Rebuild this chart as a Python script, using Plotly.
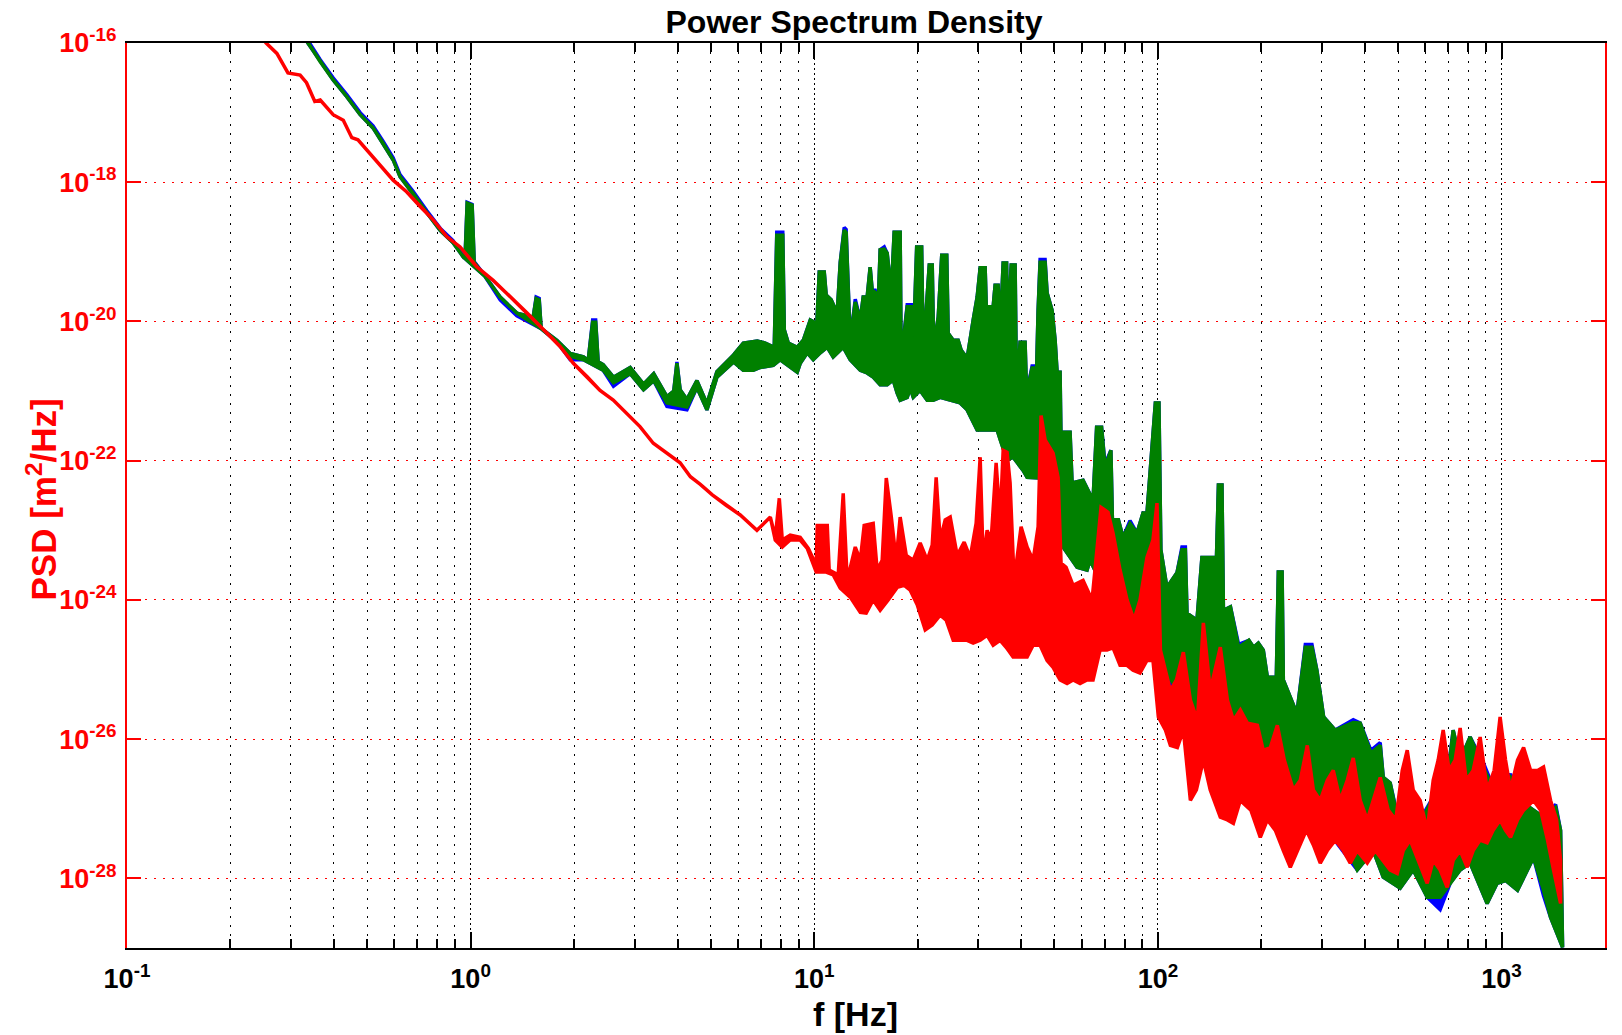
import plotly.graph_objects as go

# ------------------------------------------------------------------
# Data: (frequency [Hz], log10 PSD [m^2/Hz])
# Each spectrum is dense, so it is stored as its upper and lower
# envelope; where the trace is a thin line both envelopes coincide.
# ------------------------------------------------------------------

red_line = [(0.21, -15.50), (0.254, -16.00), (0.273, -16.15), (0.294, -16.43), (0.319, -16.46),
            (0.333, -16.57), (0.352, -16.84), (0.365, -16.82), (0.398, -17.03), (0.426, -17.11),
            (0.451, -17.36), (0.470, -17.39), (0.499, -17.54), (0.545, -17.75), (0.595, -17.97),
            (0.652, -18.14), (0.713, -18.35), (0.778, -18.54), (0.852, -18.78), (0.932, -18.93),
            (1.04, -19.21), (1.163, -19.41), (1.27, -19.59), (1.46, -19.88), (1.67, -20.17),
            (1.82, -20.36), (1.99, -20.60), (2.18, -20.79), (2.38, -20.99), (2.60, -21.13),
            (2.85, -21.32), (3.11, -21.51), (3.40, -21.75), (3.72, -21.89), (4.07, -22.03),
            (4.36, -22.23), (4.66, -22.34), (5.05, -22.49), (5.54, -22.64), (6.09, -22.78),
            (6.81, -23.00), (7.45, -22.81)]

red_top = [(7.70, -23.10), (7.91, -22.54), (8.07, -23.14), (8.51, -23.07), (9.10, -23.10),
           (9.61, -23.26), (10.13, -23.50), (10.20, -22.93), (10.91, -22.93), (11.05, -23.57),
           (11.74, -23.64), (12.14, -22.47), (12.47, -23.72), (13.16, -23.24), (13.61, -23.43),
           (13.97, -22.93), (14.84, -22.90), (15.24, -23.57), (15.76, -23.43), (16.20, -22.25),
           (16.75, -22.80), (17.31, -23.43), (17.78, -22.81), (18.52, -23.36), (19.41, -23.43),
           (20.33, -23.18), (21.31, -23.43), (22.04, -23.21), (22.63, -22.24), (23.25, -23.14),
           (24.04, -22.85), (24.86, -22.81), (26.05, -23.36), (27.30, -23.17), (28.42, -23.39),
           (29.58, -22.90), (30.39, -21.95), (31.01, -23.43), (31.84, -23.00), (32.71, -23.14),
           (33.82, -22.03), (34.74, -22.85), (35.45, -21.85), (36.40, -21.88), (37.14, -22.32),
           (38.15, -23.72), (39.98, -22.95), (41.62, -23.24), (43.33, -23.43), (44.81, -22.95),
           (45.71, -21.35), (46.95, -21.70), (49.54, -21.89), (51.23, -22.24), (52.26, -23.47),
           (54.04, -23.53), (56.64, -23.79), (60.56, -23.72), (64.32, -24.00), (66.95, -23.14),
           (68.31, -22.67), (71.58, -22.74), (74.02, -23.04), (77.58, -23.57), (81.30, -24.00),
           (85.19, -24.29), (88.68, -24.00), (92.94, -23.39), (96.75, -23.14), (99.38, -22.61),
           (101.7, -24.72), (108.7, -25.30), (113.2, -25.15), (118.6, -24.75), (124.3, -25.44),
           (130.3, -25.73), (135.6, -24.33), (142.0, -25.30), (151.9, -24.68), (159.3, -25.44),
           (165.8, -25.73), (173.7, -25.58), (182.1, -25.77), (194.7, -25.80), (202.6, -26.16),
           (212.4, -26.12), (222.6, -25.80), (233.2, -26.30), (247.8, -26.73), (259.6, -26.59),
           (272.1, -26.09), (283.3, -26.73), (296.8, -26.88), (311.1, -26.59), (323.8, -26.45),
           (339.3, -26.88), (355.6, -26.59), (370.2, -26.27), (387.9, -26.88), (406.6, -27.16),
           (423.2, -26.88), (443.5, -26.55), (468.0, -27.02), (492.1, -27.16), (514.0, -26.45),
           (531.5, -26.16), (553.2, -26.73), (579.7, -26.88), (607.6, -27.31), (632.5, -26.59),
           (654.0, -26.30), (676.3, -25.87), (703.9, -26.45), (732.9, -26.30), (757.7, -25.84),
           (789.0, -26.59), (826.8, -26.45), (866.2, -25.97), (907.9, -26.73), (951.4, -26.45),
           (990.3, -25.68), (1027, -26.30), (1062, -26.73), (1113, -26.30), (1159, -26.12),
           (1215, -26.45), (1273, -26.45), (1325, -26.40), (1389, -26.88), (1446, -27.16),
           (1485, -27.74)]

red_bottom = [(7.70, -23.14), (8.07, -23.24), (8.51, -23.14), (9.10, -23.14), (9.54, -23.26),
              (10.13, -23.60), (10.83, -23.60), (11.35, -23.64), (11.90, -23.83), (12.72, -23.96),
              (13.61, -24.18), (14.16, -24.19), (14.84, -24.00), (15.55, -24.15), (16.41, -24.00),
              (17.43, -23.82), (18.27, -23.79), (19.02, -23.86), (19.93, -24.07), (21.03, -24.43),
              (22.04, -24.36), (23.25, -24.22), (24.20, -24.29), (25.37, -24.58), (26.58, -24.58),
              (27.85, -24.58), (29.00, -24.62), (30.39, -24.58), (31.84, -24.51), (33.15, -24.65),
              (34.74, -24.58), (36.16, -24.68), (37.90, -24.82), (39.71, -24.82), (41.62, -24.82),
              (43.33, -24.65), (45.41, -24.65), (47.59, -24.87), (49.54, -24.97), (51.91, -25.15),
              (54.40, -25.20), (56.64, -25.15), (59.35, -25.20), (62.20, -25.15), (64.75, -25.15),
              (67.85, -24.72), (71.10, -24.72), (74.02, -24.69), (77.58, -24.94), (81.30, -24.94),
              (84.64, -25.01), (88.68, -25.05), (92.94, -24.87), (96.75, -24.87), (100.3, -25.68),
              (105.2, -25.87), (108.7, -26.09), (113.9, -26.12), (118.6, -25.87), (124.3, -26.88),
              (129.4, -26.73), (135.6, -26.30), (142.0, -26.73), (151.9, -27.12), (159.3, -27.16),
              (165.8, -27.21), (173.7, -26.88), (186.4, -27.02), (198.6, -27.41), (208.2, -27.16),
              (219.7, -27.31), (231.7, -27.60), (242.8, -27.84), (254.5, -27.60), (270.3, -27.31),
              (283.3, -27.52), (296.8, -27.78), (311.1, -27.60), (328.2, -27.45), (346.2, -27.60),
              (362.8, -27.78), (380.2, -27.60), (406.6, -27.78), (428.9, -27.60), (452.6, -27.74),
              (474.2, -27.88), (497.1, -27.93), (517.5, -27.60), (542.2, -27.45), (572.0, -27.74),
              (607.6, -28.07), (632.5, -27.74), (662.7, -27.88), (694.6, -28.13), (723.1, -27.74),
              (757.7, -27.60), (794.2, -27.84), (826.8, -27.60), (866.2, -27.45), (907.9, -27.49),
              (945.1, -27.31), (990.3, -27.16), (1027, -27.31), (1062, -27.41), (1113, -27.16),
              (1159, -27.02), (1239, -26.88), (1299, -27.02), (1361, -27.45), (1417, -27.88),
              (1485, -28.36)]

green_top = [(0.29, -15.50), (0.336, -16.00), (0.365, -16.27), (0.398, -16.53), (0.436, -16.77),
             (0.477, -17.03), (0.520, -17.22), (0.556, -17.44), (0.595, -17.68), (0.623, -17.92),
             (0.680, -18.16), (0.746, -18.44), (0.815, -18.69), (0.889, -18.87), (0.951, -19.07),
             (0.964, -19.05), (0.977, -18.30), (1.010, -18.33), (1.024, -19.15), (1.10, -19.35),
             (1.219, -19.65), (1.363, -19.88), (1.52, -19.94), (1.551, -19.67), (1.583, -19.69),
             (1.604, -20.10), (1.782, -20.27), (1.949, -20.46), (2.13, -20.51), (2.198, -20.56),
             (2.265, -20.01), (2.311, -20.01), (2.350, -20.58), (2.43, -20.62), (2.604, -20.80),
             (2.913, -20.66), (3.185, -20.90), (3.41, -20.75), (3.726, -21.08), (3.90, -21.00),
             (3.984, -20.60), (4.07, -20.98), (4.260, -21.12), (4.555, -20.85), (4.871, -21.18),
             (5.208, -20.72), (5.822, -20.48),
             (6.215, -20.31), (6.826, -20.28), (7.201, -20.31), (7.648, -20.37), (7.778, -18.76),
             (8.097, -18.76), (8.179, -20.12), (8.401, -20.31), (8.923, -20.37), (9.290, -20.27),
             (9.736, -19.98), (10.00, -20.01), (10.13, -20.22), (10.34, -19.29), (10.69, -19.29),
             (10.83, -19.62), (11.20, -19.69), (11.66, -19.88), (11.90, -19.15), (12.22, -18.69),
             (12.38, -18.72), (12.55, -19.41), (12.72, -20.27), (13.16, -19.72), (13.61, -19.98),
             (13.88, -19.65), (14.25, -19.65), (14.54, -19.22), (14.74, -19.55), (15.04, -19.58),
             (15.35, -19.74), (15.55, -18.97), (15.98, -18.96), (16.30, -19.02), (16.75, -19.59),
             (17.08, -18.72), (17.78, -18.72), (17.90, -20.55), (18.39, -19.98), (18.64, -19.79),
             (19.27, -19.79), (19.47, -20.22), (19.86, -18.93), (20.53, -18.93), (20.75, -20.45),
             (21.61, -19.19), (22.04, -19.19), (22.26, -20.37), (22.94, -19.94), (23.49, -19.05),
             (24.29, -19.05), (24.53, -20.17), (25.37, -20.27), (26.22, -20.27), (26.75, -20.41),
             (27.85, -20.53), (29.00, -19.98), (29.78, -19.65), (30.39, -19.23), (31.42, -19.23),
             (31.66, -19.79), (33.15, -19.79), (33.59, -19.48), (34.28, -19.48), (34.74, -20.17),
             (35.45, -19.16), (36.28, -19.16), (36.53, -20.17), (37.42, -19.19), (38.41, -19.19),
             (38.79, -21.09), (39.71, -20.30), (41.06, -20.30), (41.48, -21.03), (43.04, -20.67),
             (44.38, -20.67), (44.81, -19.84), (45.41, -19.15), (46.95, -19.15), (47.59, -19.59),
             (49.21, -19.84), (50.21, -20.27), (50.89, -20.73), (51.91, -20.73), (52.44, -22.32),
             (53.32, -21.59), (55.51, -21.59), (56.25, -22.32), (60.56, -22.28), (64.75, -22.57),
             (66.32, -21.52), (68.56, -21.52), (70.16, -22.09), (72.98, -21.85), (73.71, -22.85),
             (76.72, -22.85), (79.15, -23.10), (82.94, -22.90), (86.93, -23.04), (90.48, -22.75),
             (92.94, -22.75), (98.3, -21.17), (100.7, -21.17), (102.0, -23.28), (106.2, -23.82),
             (113.6, -23.61), (117.5, -23.28), (120.2, -23.28), (121.5, -24.19), (129.9, -24.29),
             (134.3, -23.39), (145.0, -23.39), (147.0, -23.96), (150.0, -22.35), (153.6, -22.35),
             (155.1, -24.15), (162.6, -24.10), (171.7, -24.68), (183.9, -24.58), (189.8, -24.68),
             (196.0, -24.62), (202.6, -24.72), (208.2, -25.11), (221.1, -25.11), (224.1, -23.60),
             (229.8, -23.60), (231.7, -25.15), (253.7, -25.63), (268.5, -24.68), (280.7, -24.68),
             (290.1, -25.01), (303.6, -25.68), (328.2, -25.87), (370.2, -25.76), (387.9, -25.77),
             (416.7, -26.20), (443.5, -26.09), (452.6, -26.55), (474.2, -26.63), (497.1, -27.12),
             (542.2, -27.12), (591.5, -27.12), (649.7, -26.73), (694.6, -26.63), (723.1, -25.87),
             (757.7, -26.30), (810.2, -25.97), (883.9, -26.40), (970.8, -26.83), (1062, -26.55),
             (1159, -26.92), (1325, -27.12), (1437, -26.98), (1485, -27.31), (1505, -28.97)]

green_bottom = [(0.29, -15.50), (0.336, -16.00), (0.365, -16.27), (0.398, -16.53), (0.436, -16.77),
                (0.477, -17.03), (0.520, -17.22), (0.556, -17.44), (0.595, -17.68), (0.623, -17.92),
                (0.680, -18.16), (0.746, -18.44), (0.815, -18.69), (0.889, -18.87), (0.951, -19.07),
                (1.10, -19.35), (1.219, -19.65), (1.363, -19.88), (1.60, -20.10), (1.782, -20.29),
                (1.949, -20.50), (2.13, -20.55), (2.43, -20.70), (2.604, -20.88), (2.913, -20.75),
                (3.185, -20.98), (3.41, -20.85), (3.726, -21.17), (4.260, -21.23), (4.555, -20.95),
                (4.871, -21.27), (5.208, -20.80), (5.822, -20.58),
                (6.215, -20.70), (6.644, -20.70), (6.963, -20.66), (7.596, -20.63), (7.962, -20.55),
                (8.514, -20.66), (8.923, -20.73), (9.105, -20.60), (9.541, -20.45), (9.933, -20.55),
                (10.41, -20.45), (10.91, -20.37), (11.35, -20.51), (12.14, -20.37), (12.72, -20.55),
                (13.61, -20.70), (14.25, -20.74), (14.84, -20.80), (15.55, -20.91), (16.30, -20.91),
                (16.97, -20.84), (17.43, -21.03), (17.78, -21.13), (18.64, -21.09), (19.02, -20.96),
                (19.41, -21.09), (20.33, -20.99), (21.31, -21.13), (22.19, -21.13), (23.25, -21.09),
                (24.86, -21.13), (26.58, -21.17), (27.85, -21.27), (29.00, -21.45), (29.78, -21.56),
                (34.05, -21.56), (34.74, -21.70), (36.40, -21.99), (37.90, -21.95), (40.52, -22.14),
                (41.62, -22.24), (45.41, -22.25), (48.25, -22.57), (51.91, -23.18), (58.17, -23.53),
                (62.20, -23.57), (63.46, -23.43), (71.10, -23.93), (76.03, -24.15), (82.94, -24.39),
                (84.64, -24.48), (96.75, -24.87), (101.7, -24.91), (110.9, -25.20), (116.3, -25.34),
                (124.3, -25.58), (148.9, -25.83), (177.2, -25.83), (186.4, -26.06), (202.6, -26.26),
                (242.8, -26.88), (290.9, -27.21), (332.7, -27.25), (380.2, -27.88), (423.2, -27.60),
                (452.6, -27.98), (507.1, -28.14), (553.2, -27.88), (607.6, -28.27), (662.7, -28.27),
                (708.6, -28.07), (757.7, -27.88), (810.2, -27.78), (849.2, -28.03), (907.9, -28.36),
                (970.8, -28.07), (1027, -28.03), (1113, -28.17), (1190, -27.88), (1239, -27.70),
                (1325, -28.17), (1389, -28.56), (1505, -28.99)]

blue_top = [(0.29, -15.47), (0.336, -15.97), (0.365, -16.24), (0.398, -16.50), (0.436, -16.74),
            (0.477, -17.00), (0.520, -17.19), (0.556, -17.41), (0.595, -17.65), (0.623, -17.89),
            (0.680, -18.13), (0.746, -18.41), (0.815, -18.66), (0.889, -18.84), (0.951, -19.05),
            (0.964, -19.03), (0.977, -18.29), (1.010, -18.32), (1.024, -19.14), (1.10, -19.34),
            (1.219, -19.65), (1.363, -19.88), (1.52, -19.94), (1.551, -19.65), (1.583, -19.67),
            (1.604, -20.10), (1.782, -20.27), (1.949, -20.46), (2.13, -20.51), (2.198, -20.56),
            (2.265, -19.98), (2.311, -19.98), (2.350, -20.58), (2.43, -20.62), (2.604, -20.80),
            (2.913, -20.66), (3.185, -20.90), (3.41, -20.75), (3.726, -21.08), (3.90, -21.00),
            (3.984, -20.58), (4.07, -20.98), (4.260, -21.12), (4.555, -20.85), (4.871, -21.18),
            (5.208, -20.72), (5.822, -20.48),
            (6.215, -20.31), (6.826, -20.28), (7.201, -20.31), (7.648, -20.37), (7.778, -18.72),
            (8.097, -18.72), (8.179, -20.12), (8.401, -20.31), (8.923, -20.37), (9.290, -20.27),
            (9.736, -19.98), (10.00, -20.01), (10.13, -20.22), (10.34, -19.29), (10.69, -19.29),
            (10.83, -19.62), (11.20, -19.69), (11.66, -19.88), (11.90, -19.15), (12.22, -18.65),
            (12.38, -18.68), (12.55, -19.41), (12.72, -20.27), (13.16, -19.68), (13.61, -19.98),
            (13.88, -19.65), (14.25, -19.65), (14.54, -19.22), (14.74, -19.55), (15.04, -19.55),
            (15.35, -19.74), (15.55, -18.97), (15.98, -18.93), (16.30, -19.02), (16.75, -19.59),
            (17.08, -18.72), (17.78, -18.72), (17.90, -20.55), (18.39, -19.98), (18.64, -19.76),
            (19.27, -19.76), (19.47, -20.22), (19.86, -18.93), (20.53, -18.93), (20.75, -20.45),
            (21.61, -19.19), (22.04, -19.19), (22.26, -20.37), (22.94, -19.94), (23.49, -19.05),
            (24.29, -19.05), (24.53, -20.17), (25.37, -20.27), (26.22, -20.27), (26.75, -20.41),
            (27.85, -20.53), (29.00, -19.98), (29.78, -19.65), (30.39, -19.23), (31.42, -19.23),
            (31.66, -19.79), (33.15, -19.79), (33.59, -19.48), (34.28, -19.48), (34.74, -20.17),
            (35.45, -19.16), (36.28, -19.16), (36.53, -20.17), (37.42, -19.19), (38.41, -19.19),
            (38.79, -21.09), (39.71, -20.30), (41.06, -20.30), (41.48, -21.03), (43.04, -20.64),
            (44.38, -20.64), (44.81, -19.84), (45.41, -19.11), (46.95, -19.11), (47.59, -19.59),
            (49.21, -19.84), (50.21, -20.27), (50.89, -20.73), (51.91, -20.73), (52.44, -22.32),
            (53.32, -21.59), (55.51, -21.59), (56.25, -22.32), (60.56, -22.28), (64.75, -22.57),
            (66.32, -21.52), (68.56, -21.52), (70.16, -22.05), (72.98, -21.85), (73.71, -22.85),
            (76.72, -22.85), (79.15, -23.10), (82.94, -22.86), (86.93, -23.04), (90.48, -22.75),
            (92.94, -22.75), (98.3, -21.17), (100.7, -21.17), (102.0, -23.28), (106.2, -23.82),
            (113.6, -23.61), (117.5, -23.24), (120.2, -23.24), (121.5, -24.19), (129.9, -24.29),
            (134.3, -23.39), (145.0, -23.39), (147.0, -23.96), (150.0, -22.35), (153.6, -22.35),
            (155.1, -24.15), (162.6, -24.10), (171.7, -24.64), (183.9, -24.58), (189.8, -24.68),
            (196.0, -24.62), (202.6, -24.72), (208.2, -25.11), (221.1, -25.11), (224.1, -23.60),
            (229.8, -23.60), (231.7, -25.15), (253.7, -25.63), (268.5, -24.64), (280.7, -24.64),
            (290.1, -25.01), (303.6, -25.68), (328.2, -25.87), (370.2, -25.72), (387.9, -25.77),
            (416.7, -26.16), (443.5, -26.05), (452.6, -26.55), (474.2, -26.63), (497.1, -27.08),
            (542.2, -27.12), (591.5, -27.08), (649.7, -26.73), (694.6, -26.55), (723.1, -25.87),
            (757.7, -26.30), (810.2, -25.97), (883.9, -26.33), (970.8, -26.83), (1062, -26.50),
            (1159, -26.92), (1325, -27.12), (1437, -26.94), (1485, -27.31), (1505, -28.97)]

blue_bottom = [(0.29, -15.50), (0.336, -16.00), (0.365, -16.27), (0.398, -16.53), (0.436, -16.77),
               (0.477, -17.03), (0.520, -17.22), (0.556, -17.44), (0.595, -17.68), (0.623, -17.92),
               (0.680, -18.16), (0.746, -18.44), (0.815, -18.69), (0.889, -18.87), (0.951, -19.07),
               (1.10, -19.35), (1.219, -19.69), (1.363, -19.92), (1.60, -20.10), (1.782, -20.29),
               (1.949, -20.55), (2.13, -20.55), (2.43, -20.70), (2.604, -20.93), (2.913, -20.75),
               (3.185, -20.98), (3.41, -20.85), (3.726, -21.22), (4.260, -21.27), (4.555, -20.95),
               (4.871, -21.27), (5.208, -20.80), (5.822, -20.58),
               (6.215, -20.70), (6.644, -20.70), (6.963, -20.66), (7.596, -20.63), (7.962, -20.55),
               (8.514, -20.66), (8.923, -20.73), (9.105, -20.60), (9.541, -20.45), (9.933, -20.55),
               (10.41, -20.45), (10.91, -20.37), (11.35, -20.51), (12.14, -20.37), (12.72, -20.55),
               (13.61, -20.70), (14.25, -20.74), (14.84, -20.80), (15.55, -20.91), (16.30, -20.91),
               (16.97, -20.84), (17.43, -21.03), (17.78, -21.13), (18.64, -21.09), (19.02, -20.96),
               (19.41, -21.09), (20.33, -20.99), (21.31, -21.13), (22.19, -21.13), (23.25, -21.09),
               (24.86, -21.13), (26.58, -21.17), (27.85, -21.27), (29.00, -21.45), (29.78, -21.56),
               (34.05, -21.56), (34.74, -21.70), (36.40, -21.99), (37.90, -21.95), (40.52, -22.14),
               (41.62, -22.24), (45.41, -22.25), (48.25, -22.57), (51.91, -23.18), (58.17, -23.53),
               (62.20, -23.57), (63.46, -23.43), (71.10, -23.93), (76.03, -24.15), (82.94, -24.39),
               (84.64, -24.55), (96.75, -24.87), (101.7, -24.97), (110.9, -25.26), (116.3, -25.34),
               (124.3, -25.58), (148.9, -25.83), (177.2, -25.83), (186.4, -26.06), (202.6, -26.26),
               (242.8, -26.88), (290.9, -27.21), (332.7, -27.50), (380.2, -27.88), (423.2, -27.60),
               (452.6, -27.98), (507.1, -28.14), (553.2, -27.88), (607.6, -28.27), (662.7, -28.45),
               (708.6, -28.07), (757.7, -27.88), (810.2, -27.78), (849.2, -28.03), (907.9, -28.36),
               (970.8, -28.07), (1027, -28.03), (1113, -28.17), (1190, -27.88), (1239, -27.70),
               (1325, -28.25), (1389, -28.56), (1505, -28.99)]

x_major = [0.1, 1, 10, 100, 1000]
x_major_text = ["10<sup>-1</sup>", "10<sup>0</sup>", "10<sup>1</sup>", "10<sup>2</sup>", "10<sup>3</sup>"]
x_minor = [0.2, 0.3, 0.4, 0.5, 0.6, 0.7, 0.8, 0.9,
           2, 3, 4, 5, 6, 7, 8, 9,
           20, 30, 40, 50, 60, 70, 80, 90,
           200, 300, 400, 500, 600, 700, 800, 900]
y_major = [1e-16, 1e-18, 1e-20, 1e-22, 1e-24, 1e-26, 1e-28]
y_major_text = ["10<sup>-16</sup>", "10<sup>-18</sup>", "10<sup>-20</sup>", "10<sup>-22</sup>",
                "10<sup>-24</sup>", "10<sup>-26</sup>", "10<sup>-28</sup>"]

FONT = "Liberation Sans, Arial, Helvetica, sans-serif"

# The page body adds an 8px margin, so the figure is 8px smaller than the window.
FIG_W, FIG_H = 1614, 1027


def band(top, bottom):
    """Closed outline: along the upper envelope, back along the lower one."""
    xs = [p[0] for p in top] + [p[0] for p in reversed(bottom)]
    ys = [10 ** p[1] for p in top] + [10 ** p[1] for p in reversed(bottom)]
    return xs, ys


fig = go.Figure()
series = [
    ("blue", blue_top, blue_bottom, "#0000ff"),
    ("green", green_top, green_bottom, "#008000"),
    ("red", red_line + red_top, red_line + red_bottom, "#ff0000"),
]
for name, top, bottom, color in series:
    xs, ys = band(top, bottom)
    fig.add_trace(go.Scatter(
        x=xs, y=ys, mode="lines", name=name,
        fill="toself", fillcolor=color,
        line=dict(color=color, width=3.5),
        hoverinfo="skip", showlegend=False,
    ))

fig.update_layout(
    width=FIG_W, height=FIG_H,
    margin=dict(l=119, r=17, t=35, b=87),
    paper_bgcolor="white", plot_bgcolor="white",
    font=dict(family=FONT),
    title=dict(text="Power Spectrum Density", x=846 / FIG_W, xref="container", xanchor="center",
               y=1 - 14 / FIG_H, yref="container", yanchor="middle",
               font=dict(family=FONT, size=32, color="black", weight="bold")),
    xaxis=dict(
        type="log", range=[-1, 3.30103], automargin=False,
        tickmode="array", tickvals=x_major, ticktext=x_major_text,
        ticks="inside", ticklen=16, tickwidth=1.5, tickcolor="black",
        showline=True, linecolor="black", linewidth=2, mirror="allticks",
        showgrid=True, gridcolor="black", gridwidth=1.2, griddash="2px,3px",
        zeroline=False,
        tickfont=dict(family=FONT, size=27, color="black", weight="bold"),
        ticklabelstandoff=6,
        minor=dict(tickmode="array", tickvals=x_minor, ticks="inside", ticklen=9,
                   tickwidth=1.5, tickcolor="black",
                   showgrid=True, gridcolor="black", gridwidth=1.2, griddash="2px,7px"),
    ),
    yaxis=dict(
        type="log", range=[-29, -16], automargin=False,
        tickmode="array", tickvals=y_major, ticktext=y_major_text,
        ticks="inside", ticklen=14, tickwidth=1.5, tickcolor="#ff0000",
        showline=True, linecolor="#ff0000", linewidth=2, mirror="allticks",
        showgrid=True, gridcolor="#ff0000", gridwidth=1.2, griddash="2px,7px",
        zeroline=False,
        tickfont=dict(family=FONT, size=27, color="#ff0000", weight="bold"),
        ticklabelstandoff=3,
    ),
    annotations=[
        dict(text="f [Hz]", xref="paper", yref="paper", x=0.4926, y=0,
             xanchor="center", yanchor="middle", yshift=-66, showarrow=False,
             font=dict(family=FONT, size=34, color="black", weight="bold")),
        dict(text="PSD [m<sup>2</sup>/Hz]", xref="paper", yref="paper", x=0, y=0.5,
             xanchor="center", yanchor="middle", xshift=-86, yshift=-4, textangle=-90,
             showarrow=False,
             font=dict(family=FONT, size=35, color="#ff0000", weight="bold")),
    ],
)

fig.write_html("out.html")
